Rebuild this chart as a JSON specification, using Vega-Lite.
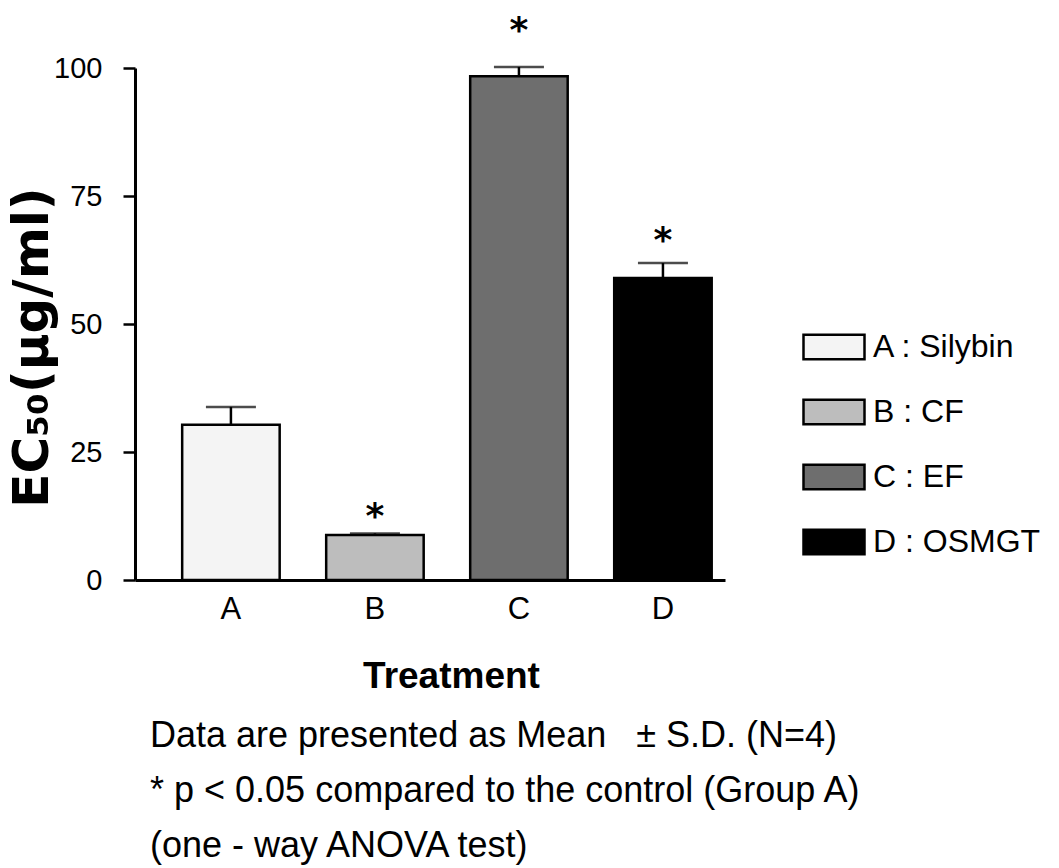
{
  "$schema": "https://vega.github.io/schema/vega-lite/v6.json",
  "autosize": {"type": "none"},
  "width": 590,
  "height": 512,
  "padding": {"left": 135, "top": 68, "right": 334, "bottom": 288},
  "background": "white",
  "config": {
    "view": {"stroke": null},
    "font": "Liberation Sans"
  },
  "title": {
    "text": ["\u00a0Data are presented as Mean\u00a0\u00a0\u00a0± S.D. (N=4)", "* p < 0.05 compared to the control (Group A)", "(one - way ANOVA test)"],
    "orient": "bottom",
    "anchor": "start",
    "frame": "group",
    "font": "Liberation Sans",
    "fontSize": 36,
    "fontWeight": "normal",
    "color": "black",
    "lineHeight": 55,
    "offset": 25,
    "dx": 15
  },
  "data": {
    "values": [
      {"group": "A", "label": "A : Silybin", "mean": 30.3, "upper": 33.8, "sig": "", "star": null},
      {"group": "B", "label": "B : CF", "mean": 8.8, "upper": 9.1, "sig": "*", "star": 13.5},
      {"group": "C", "label": "C : EF", "mean": 98.4, "upper": 100.2, "sig": "*", "star": 108.4},
      {"group": "D", "label": "D : OSMGT", "mean": 59.0, "upper": 61.9, "sig": "*", "star": 67.4}
    ]
  },
  "encoding": {
    "x": {
      "field": "group",
      "type": "nominal",
      "sort": ["A", "B", "C", "D"],
      "scale": {"paddingInner": 0.323, "paddingOuter": 0.21, "align": 0.78},
      "axis": {
        "title": "Treatment",
        "titleFont": "Liberation Sans",
        "titleFontSize": 37,
        "titleFontWeight": "bold",
        "titleColor": "black",
        "titleX": 316,
        "titleY": 107,
        "titleAlign": "center",
        "titleBaseline": "alphabetic",
        "labelAngle": 0,
        "labelFont": "Liberation Sans",
        "labelFontSize": 31,
        "labelColor": "black",
        "labelPadding": 14,
        "ticks": false,
        "domainColor": "black",
        "domainWidth": 3,
        "grid": false
      }
    }
  },
  "layer": [
    {
      "mark": {"type": "bar", "stroke": "black", "strokeWidth": 2.5},
      "encoding": {
        "y": {
          "field": "mean",
          "type": "quantitative",
          "scale": {"domain": [0, 100], "nice": false},
          "axis": {
            "title": "EC₅₀(µg/ml)",
            "titleFont": "DejaVu Sans",
            "titleFontSize": 50,
            "titleFontWeight": "bold",
            "titleColor": "black",
            "titleAngle": -90,
            "titleX": -103,
            "titleY": 279,
            "titleAlign": "center",
            "titleBaseline": "middle",
            "values": [0, 25, 50, 75, 100],
            "labelFont": "Liberation Sans",
            "labelFontSize": 29,
            "labelColor": "black",
            "labelPadding": 21,
            "tickSize": 12,
            "tickWidth": 2.5,
            "tickColor": "black",
            "domainColor": "black",
            "domainWidth": 3,
            "grid": false
          }
        },
        "color": {
          "field": "label",
          "type": "nominal",
          "sort": ["A : Silybin", "B : CF", "C : EF", "D : OSMGT"],
          "scale": {
            "domain": ["A : Silybin", "B : CF", "C : EF", "D : OSMGT"],
            "range": ["#f4f4f4", "#bdbdbd", "#6e6e6e", "#000000"]
          },
          "legend": {
            "title": null,
            "orient": "none",
            "legendX": 667,
            "legendY": 247,
            "padding": 0,
            "symbolType": "M-1,-0.4H1V0.4H-1Z",
            "symbolSize": 3721,
            "symbolStrokeColor": "black",
            "symbolStrokeWidth": 2.5,
            "rowPadding": 15,
            "labelFont": "Liberation Sans",
            "labelFontSize": 32,
            "labelColor": "black",
            "labelOffset": 7,
            "labelLimit": 300
          }
        }
      }
    },
    {
      "mark": {"type": "rule", "strokeWidth": 2.5, "color": "black"},
      "encoding": {
        "y": {"field": "mean", "type": "quantitative"},
        "y2": {"field": "upper"}
      }
    },
    {
      "mark": {"type": "tick", "thickness": 2.5, "size": 50, "color": "black"},
      "encoding": {
        "y": {"field": "upper", "type": "quantitative"}
      }
    },
    {
      "transform": [{"filter": "datum.sig == '*'"}],
      "mark": {"type": "text", "font": "DejaVu Sans", "fontWeight": "bold", "fontSize": 36, "baseline": "alphabetic", "dy": 17, "color": "black"},
      "encoding": {
        "y": {"field": "star", "type": "quantitative"},
        "text": {"field": "sig"}
      }
    }
  ]
}
